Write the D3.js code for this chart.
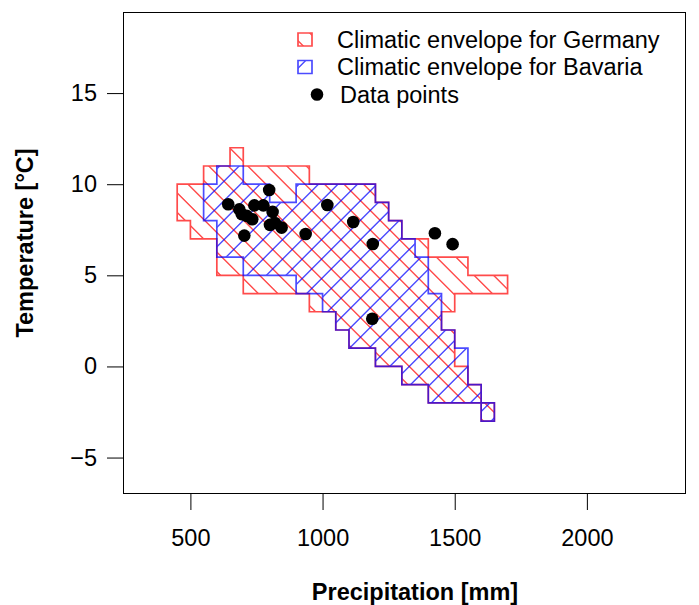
<!DOCTYPE html>
<html>
<head>
<meta charset="utf-8">
<script src="https://cdn.jsdelivr.net/npm/d3@7"></script>
<style>
  body { margin: 0; background: #fff; }
  svg { display: block; }
  text { font-family: "Liberation Sans", Arial, Helvetica, sans-serif; fill: #000; }
</style>
</head>
<body>
<svg id="chart" width="699" height="605"></svg>
<script>
// Climatic envelopes on a 50 mm x 1 °C grid: [lower temperature, precipitation from, precipitation to]
const germanyRows = [
  [11, 650, 700], [10, 550, 950], [9, 450, 1200], [8, 450, 1250], [7, 500, 1300],
  [6, 600, 1400], [5, 600, 1550], [4, 700, 1700], [3, 950, 1500], [2, 1050, 1450],
  [1, 1100, 1500], [0, 1200, 1500], [-1, 1300, 1550], [-2, 1400, 1600], [-3, 1600, 1650]
];
const bavariaRows = [
  [10, 600, 700], [9, 550, 800], [9, 900, 1200], [8, 550, 1250], [7, 600, 1300],
  [6, 600, 1350], [5, 700, 1400], [4, 900, 1400], [3, 1000, 1450], [2, 1050, 1450],
  [1, 1100, 1500], [0, 1200, 1550], [-1, 1300, 1550], [-2, 1400, 1600], [-3, 1600, 1650]
];
const cellWidth = 50;   // mm
const cellHeight = 1;   // °C

// Observed sites
const pointPrecip = [643, 685, 694, 713, 734, 742, 776, 798, 811, 801, 820, 845, 704, 936, 1018, 1116, 1190, 1188, 1425, 1492];
const pointTemp   = [8.9, 8.62, 8.36, 8.26, 8.08, 8.84, 8.84, 9.68, 8.48, 7.77, 7.87, 7.62, 7.18, 7.27, 8.86, 7.93, 6.72, 2.62, 7.31, 6.71];

const xTicks = [500, 1000, 1500, 2000];
const yTicks = [-5, 0, 5, 10, 15];
const xTitle = "Precipitation [mm]";
const yTitle = "Temperature [°C]";
const legendLabels = ["Climatic envelope for Germany", "Climatic envelope for Bavaria", "Data points"];

const W = 699, H = 605;
const plot = { left: 123, right: 686, top: 12, bottom: 494 };
const FONT = 23.5;
const hatchGap = 19.5;      // horizontal distance between hatch lines, px
const red = "#ff0000", blue = "#0000ff";

const svg = d3.select("#chart");

const x = d3.scaleLinear().domain([245, 2375]).range([plot.left, plot.right]);
const y = d3.scaleLinear().domain([-7.0, 19.45]).range([plot.bottom, plot.top]);

// ---- grid cells -------------------------------------------------------
function toCells(rows) {
  const cells = new Map();
  rows.forEach(([t, p0, p1]) => {
    for (let p = p0; p < p1; p += cellWidth) {
      const i = Math.round(p / cellWidth), j = Math.round(t / cellHeight);
      cells.set(i + "," + j, [i, j]);
    }
  });
  return cells;
}

function cellAreaPath(cells) {
  const path = d3.path();
  cells.forEach(([i, j]) => {
    const xa = x(i * cellWidth), xb = x((i + 1) * cellWidth);
    const ya = y((j + 1) * cellHeight), yb = y(j * cellHeight);
    path.moveTo(xa, ya); path.lineTo(xb, ya); path.lineTo(xb, yb); path.lineTo(xa, yb); path.closePath();
  });
  return path.toString();
}

function cellOutlinePath(cells) {
  const path = d3.path();
  const has = (i, j) => cells.has(i + "," + j);
  cells.forEach(([i, j]) => {
    const p0 = i * cellWidth, p1 = (i + 1) * cellWidth;
    const t0 = j * cellHeight, t1 = (j + 1) * cellHeight;
    if (!has(i - 1, j)) { path.moveTo(x(p0), y(t0)); path.lineTo(x(p0), y(t1)); }
    if (!has(i + 1, j)) { path.moveTo(x(p1), y(t0)); path.lineTo(x(p1), y(t1)); }
    if (!has(i, j - 1)) { path.moveTo(x(p0), y(t0)); path.lineTo(x(p1), y(t0)); }
    if (!has(i, j + 1)) { path.moveTo(x(p0), y(t1)); path.lineTo(x(p1), y(t1)); }
  });
  return path.toString();
}

// Hatch lines anchored on the 0 °C line at multiples of the spacing, like base R shading.
// dir = +1 : "\" lines ; dir = -1 : "/" lines
function hatchPath(dir) {
  const ox = x(0), oy = y(0);
  const base = ox - dir * oy;
  const y0 = -20, y1 = H + 20;
  const cMin = Math.min(-20 - dir * y0, -20 - dir * y1, W + 20 - dir * y0, W + 20 - dir * y1);
  const cMax = Math.max(-20 - dir * y0, -20 - dir * y1, W + 20 - dir * y0, W + 20 - dir * y1);
  const k0 = Math.floor((cMin - base) / hatchGap), k1 = Math.ceil((cMax - base) / hatchGap);
  const path = d3.path();
  for (let k = k0; k <= k1; k++) {
    const c = base + k * hatchGap;
    path.moveTo(c + dir * y0, y0);
    path.lineTo(c + dir * y1, y1);
  }
  return path.toString();
}

const defs = svg.append("defs");
let clipId = 0;
function hatchedShape(parent, areaD, outlineD, color, dir) {
  const id = "clip" + (clipId++);
  defs.append("clipPath").attr("id", id).append("path").attr("d", areaD);
  const g = parent.append("g").attr("opacity", 0.7);
  g.append("path")
    .attr("d", hatchPath(dir))
    .attr("clip-path", `url(#${id})`)
    .attr("fill", "none").attr("stroke", color).attr("stroke-width", 1.4);
  if (outlineD) {
    g.append("path")
      .attr("d", outlineD)
      .attr("fill", "none").attr("stroke", color).attr("stroke-width", 1.7)
      .attr("stroke-linecap", "square");
  }
  return g;
}

const germanyCells = toCells(germanyRows);
const bavariaCells = toCells(bavariaRows);

const plotG = svg.append("g");
hatchedShape(plotG, cellAreaPath(germanyCells), cellOutlinePath(germanyCells), red, 1);
hatchedShape(plotG, cellAreaPath(bavariaCells), cellOutlinePath(bavariaCells), blue, -1);

// ---- data points ------------------------------------------------------
svg.append("g").selectAll("circle")
  .data(d3.range(pointPrecip.length))
  .join("circle")
  .attr("cx", i => x(pointPrecip[i]))
  .attr("cy", i => y(pointTemp[i]))
  .attr("r", 6.3)
  .attr("fill", "#000");

// ---- axes ---------------------------------------------------------------
const gx = svg.append("g")
  .attr("transform", `translate(0,${plot.bottom})`)
  .call(d3.axisBottom(x).tickValues(xTicks).tickSize(16).tickPadding(19).tickFormat(d3.format("d")));
gx.select(".domain").remove();
gx.attr("font-size", FONT).attr("font-family", null);
gx.selectAll("line").attr("stroke", "#000").attr("stroke-width", 1);

const gy = svg.append("g")
  .attr("transform", `translate(${plot.left},0)`)
  .call(d3.axisLeft(y).tickValues(yTicks).tickSize(16).tickPadding(10).tickFormat(d3.format("d")));
gy.select(".domain").remove();
gy.attr("font-size", FONT).attr("font-family", null);
gy.selectAll("line").attr("stroke", "#000").attr("stroke-width", 1);

svg.append("rect")
  .attr("x", plot.left + 0.5).attr("y", plot.top + 0.5)
  .attr("width", plot.right - plot.left - 1).attr("height", plot.bottom - plot.top - 1)
  .attr("fill", "none").attr("stroke", "#000").attr("stroke-width", 1);

svg.append("text")
  .attr("x", 415).attr("y", 600)
  .attr("text-anchor", "middle")
  .attr("font-size", FONT).attr("font-weight", "bold")
  .text(xTitle);

svg.append("text")
  .attr("transform", "translate(33,243) rotate(-90)")
  .attr("text-anchor", "middle")
  .attr("font-size", FONT).attr("font-weight", "bold")
  .text(yTitle);

// ---- legend -------------------------------------------------------------
const legend = svg.append("g");
const rowY = [39.5, 67, 94.5];
const boxX = 298, boxW = 14, boxH = 13, textX = 337;

function boxPath(cy) {
  return `M${boxX},${cy - boxH / 2}h${boxW}v${boxH}h${-boxW}Z`;
}
hatchedShape(legend, boxPath(rowY[0]), boxPath(rowY[0]), red, 1);
hatchedShape(legend, boxPath(rowY[1]), boxPath(rowY[1]), blue, -1);
legend.append("circle").attr("cx", 317).attr("cy", rowY[2]).attr("r", 6.3).attr("fill", "#000");

legend.selectAll("text.lab")
  .data(legendLabels)
  .join("text")
  .attr("class", "lab")
  .attr("x", (d, i) => i === 2 ? 340 : textX)
  .attr("y", (d, i) => rowY[i])
  .attr("dy", "0.35em")
  .attr("font-size", FONT)
  .text(d => d);
</script>
</body>
</html>
